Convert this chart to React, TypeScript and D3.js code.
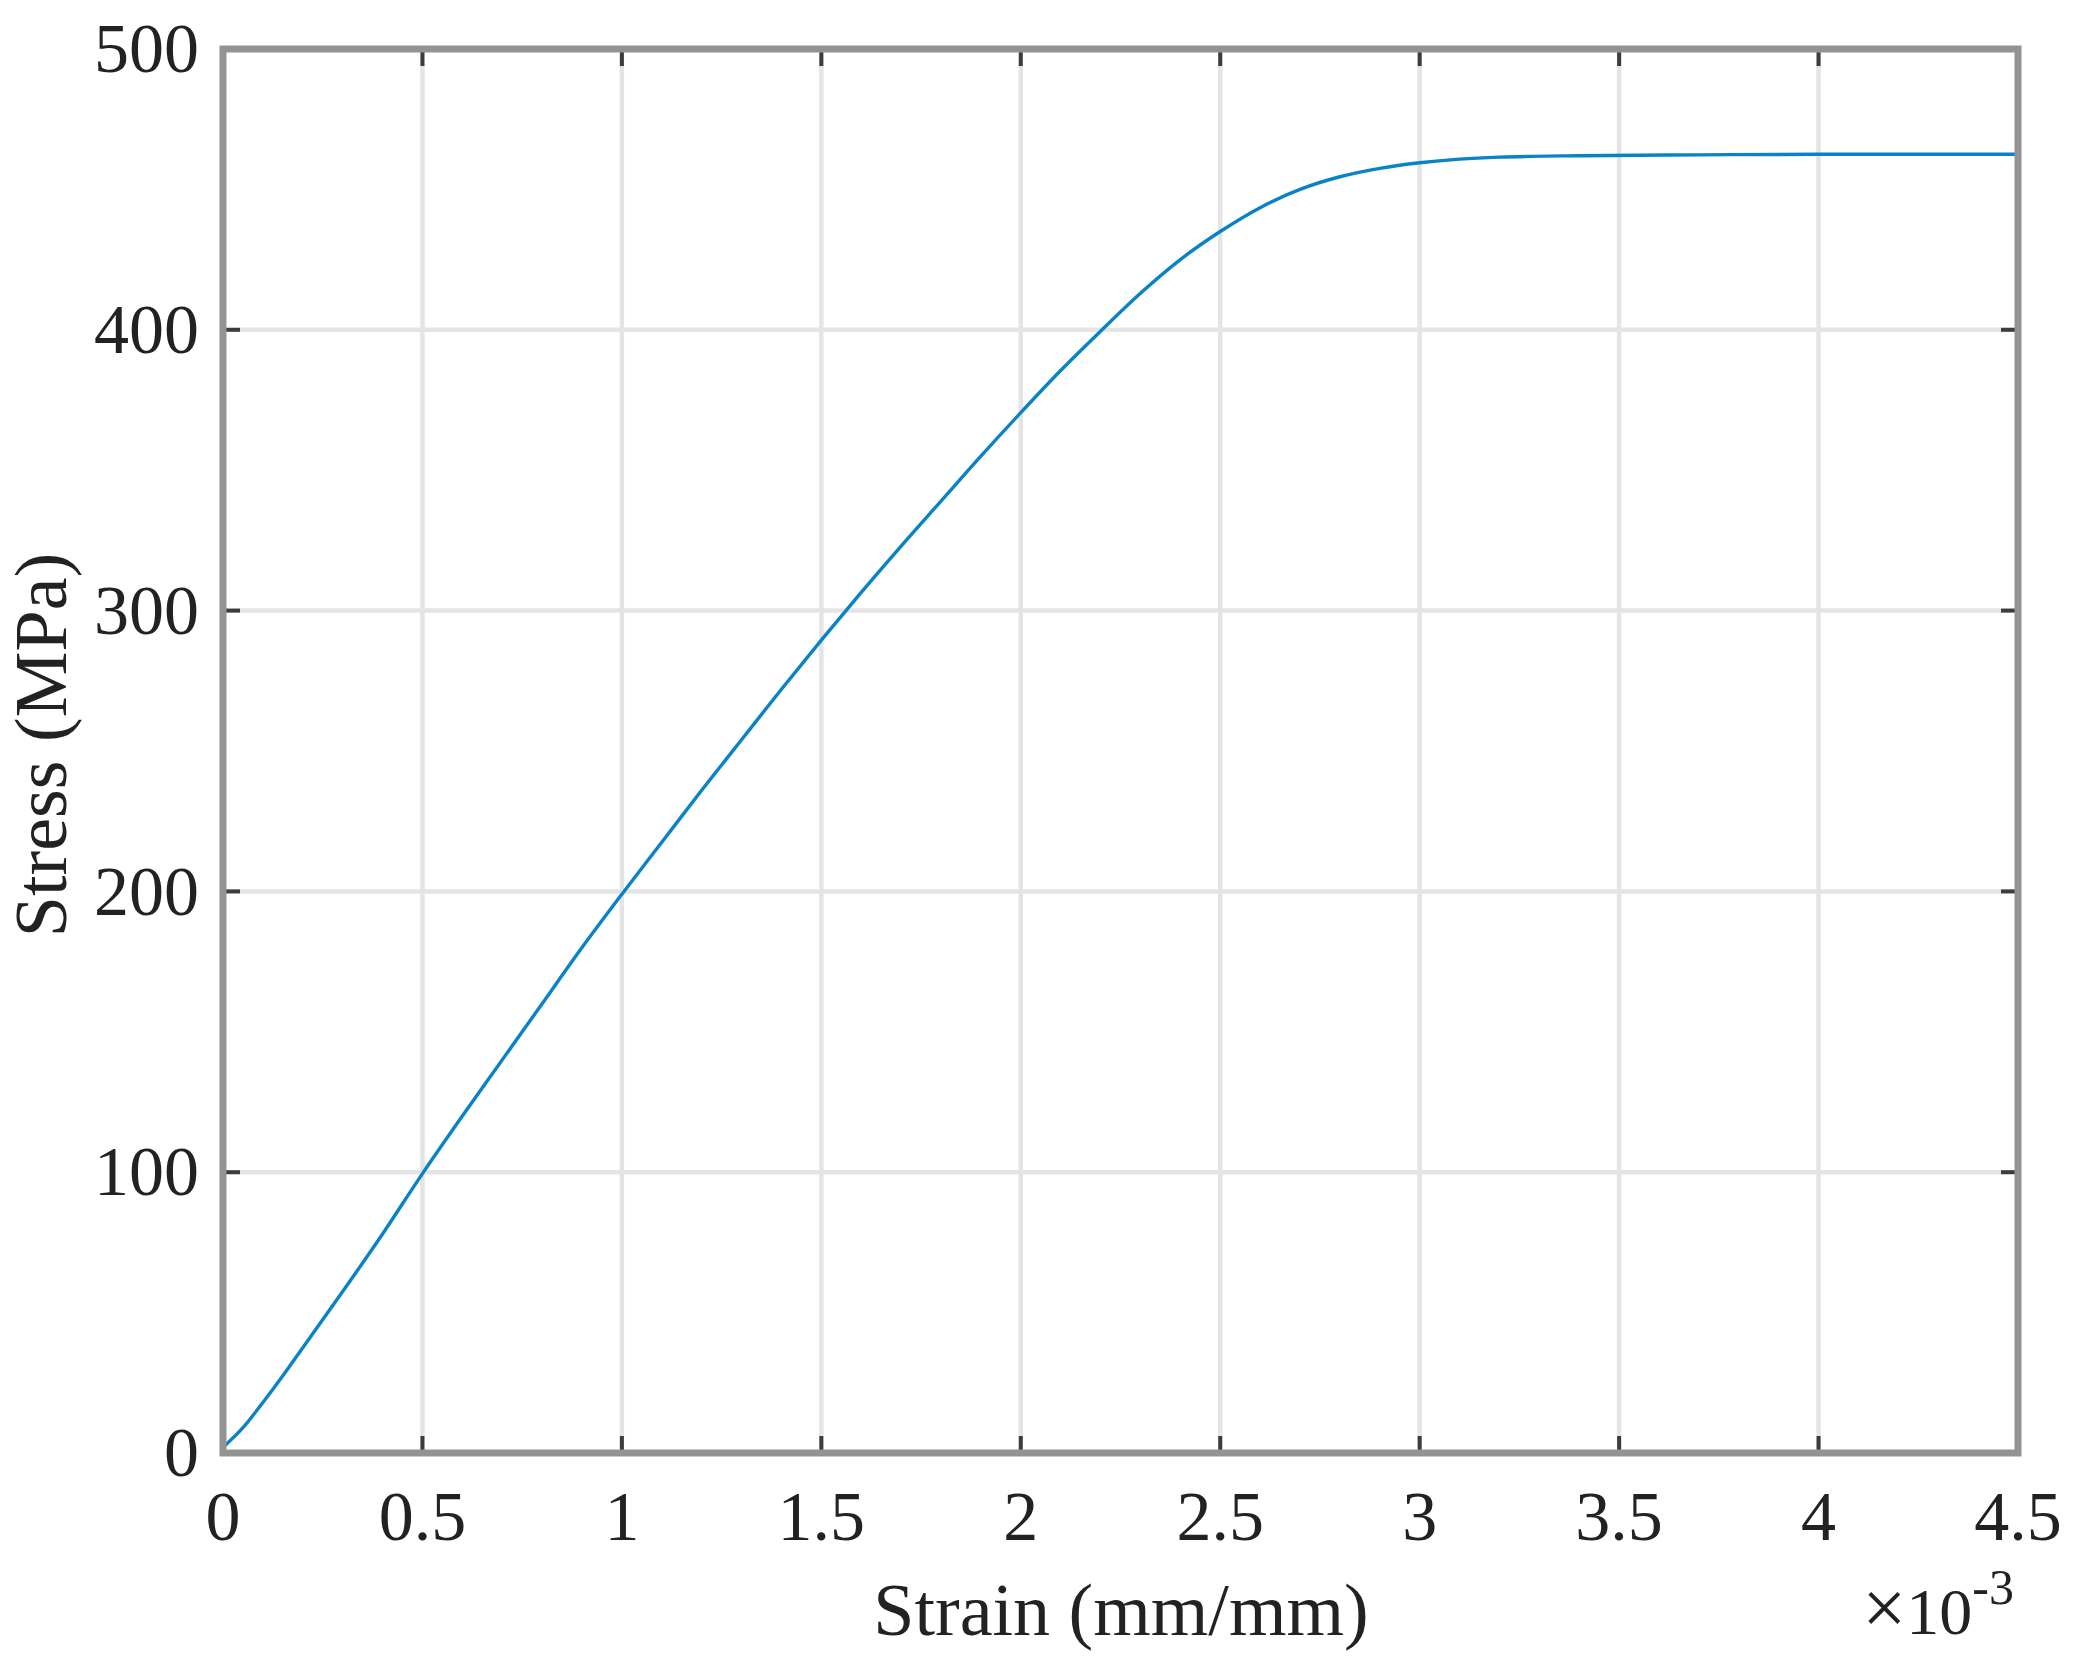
import React from "react"
import * as d3 from "d3"

// strain in units of 1e-3 mm/mm, stress in MPa
const strainValues = [
  0, 0.05, 0.1, 0.15, 0.2, 0.3, 0.4, 0.5, 0.6, 0.7, 0.8, 0.9, 1.0, 1.1, 1.2, 1.3, 1.4, 1.5, 1.6, 1.7, 1.8,
  1.9, 2.0, 2.1, 2.2, 2.3, 2.4, 2.5, 2.6, 2.7, 2.8, 2.9, 3.0, 3.1, 3.2, 3.4, 3.7, 4.0, 4.5,
]
const stressValues = [
  2, 9, 18, 27.5, 37.5, 57.5, 78, 99.5, 120, 140, 160, 180, 199, 217.5, 236, 254, 272, 289.5, 306.5, 323, 339,
  355, 370.5, 385.5, 399.5, 413, 425, 435, 443.5, 450, 454.5, 457.5, 459.5, 460.8, 461.5, 462, 462.3, 462.5, 462.5,
]

const xTicks = [0, 0.5, 1, 1.5, 2, 2.5, 3, 3.5, 4, 4.5]
const yTicks = [0, 100, 200, 300, 400, 500]

const xLabel = "Strain (mm/mm)"
const yLabel = "Stress (MPa)"

const W = 2073
const H = 1656
const margin = { left: 223, right: 2073 - 2018, top: 49, bottom: 1656 - 1453 }

const FONT = "'Liberation Serif', 'Times New Roman', serif"
const TEXT = "#222"
const AXIS = "#939393"
const GRID = "#e4e4e4"
const TICK = "#3c3c3c"
const LINE = "#0a82c8"
const tickLen = 17

const App: React.FC = () => {
  const x = d3.scaleLinear().domain([0, 4.5]).range([margin.left, W - margin.right])
  const y = d3.scaleLinear().domain([0, 500]).range([H - margin.bottom, margin.top])

  const data = strainValues.map((s, i) => ({ s, v: stressValues[i] }))
  const line = d3.line<{ s: number; v: number }>()
    .x(d => x(d.s))
    .y(d => y(d.v))
    .curve(d3.curveMonotoneX)

  const [x0, x1] = x.range()
  const [y0, y1] = y.range()

  return (
    <svg width={W} height={H} style={{ position: "absolute", left: 0, top: 0, background: "#fff" }}>
      <rect x={0} y={0} width={W} height={H} fill="#fff" />

      {/* grid */}
      <g stroke={GRID} strokeWidth={4.5}>
        {xTicks.slice(1, -1).map(t => (
          <line key={"gx" + t} x1={x(t)} x2={x(t)} y1={y0} y2={y1} />
        ))}
        {yTicks.slice(1, -1).map(t => (
          <line key={"gy" + t} x1={x0} x2={x1} y1={y(t)} y2={y(t)} />
        ))}
      </g>

      {/* curve */}
      <path d={line(data) || ""} fill="none" stroke={LINE} strokeWidth={3.4} strokeLinejoin="round" />

      {/* ticks, inside on all four sides */}
      <g stroke={TICK} strokeWidth={4}>
        {xTicks.map(t => (
          <g key={"tx" + t}>
            <line x1={x(t)} x2={x(t)} y1={y0} y2={y0 - tickLen} />
            <line x1={x(t)} x2={x(t)} y1={y1} y2={y1 + tickLen} />
          </g>
        ))}
        {yTicks.map(t => (
          <g key={"ty" + t}>
            <line x1={x0} x2={x0 + tickLen} y1={y(t)} y2={y(t)} />
            <line x1={x1} x2={x1 - tickLen} y1={y(t)} y2={y(t)} />
          </g>
        ))}
      </g>

      {/* box */}
      <rect x={x0} y={y1} width={x1 - x0} height={y0 - y1} fill="none" stroke={AXIS} strokeWidth={7} />

      {/* tick labels */}
      <g fontFamily={FONT} fontSize={70} fill={TEXT}>
        {xTicks.map(t => (
          <text key={"lx" + t} x={x(t)} y={y0 + 87} textAnchor="middle">{String(t)}</text>
        ))}
        {yTicks.map(t => (
          <text key={"ly" + t} x={x0 - 24} y={y(t)} dy="0.33em" textAnchor="end">{String(t)}</text>
        ))}
      </g>

      {/* axis titles */}
      <text x={1121} y={1635} textAnchor="middle" fontFamily={FONT} fontSize={74} fill={TEXT}>{xLabel}</text>
      <text transform="translate(66,745) rotate(-90)" textAnchor="middle" fontFamily={FONT} fontSize={74} fill={TEXT}>{yLabel}</text>

      {/* exponent */}
      <text x={2014} y={1634} textAnchor="end" fontFamily={FONT} fontSize={66} fill={TEXT}>
        <tspan fontSize={78}>×</tspan>10<tspan fontSize={50} dy={-30}>-3</tspan>
      </text>
    </svg>
  )
}

export default App
